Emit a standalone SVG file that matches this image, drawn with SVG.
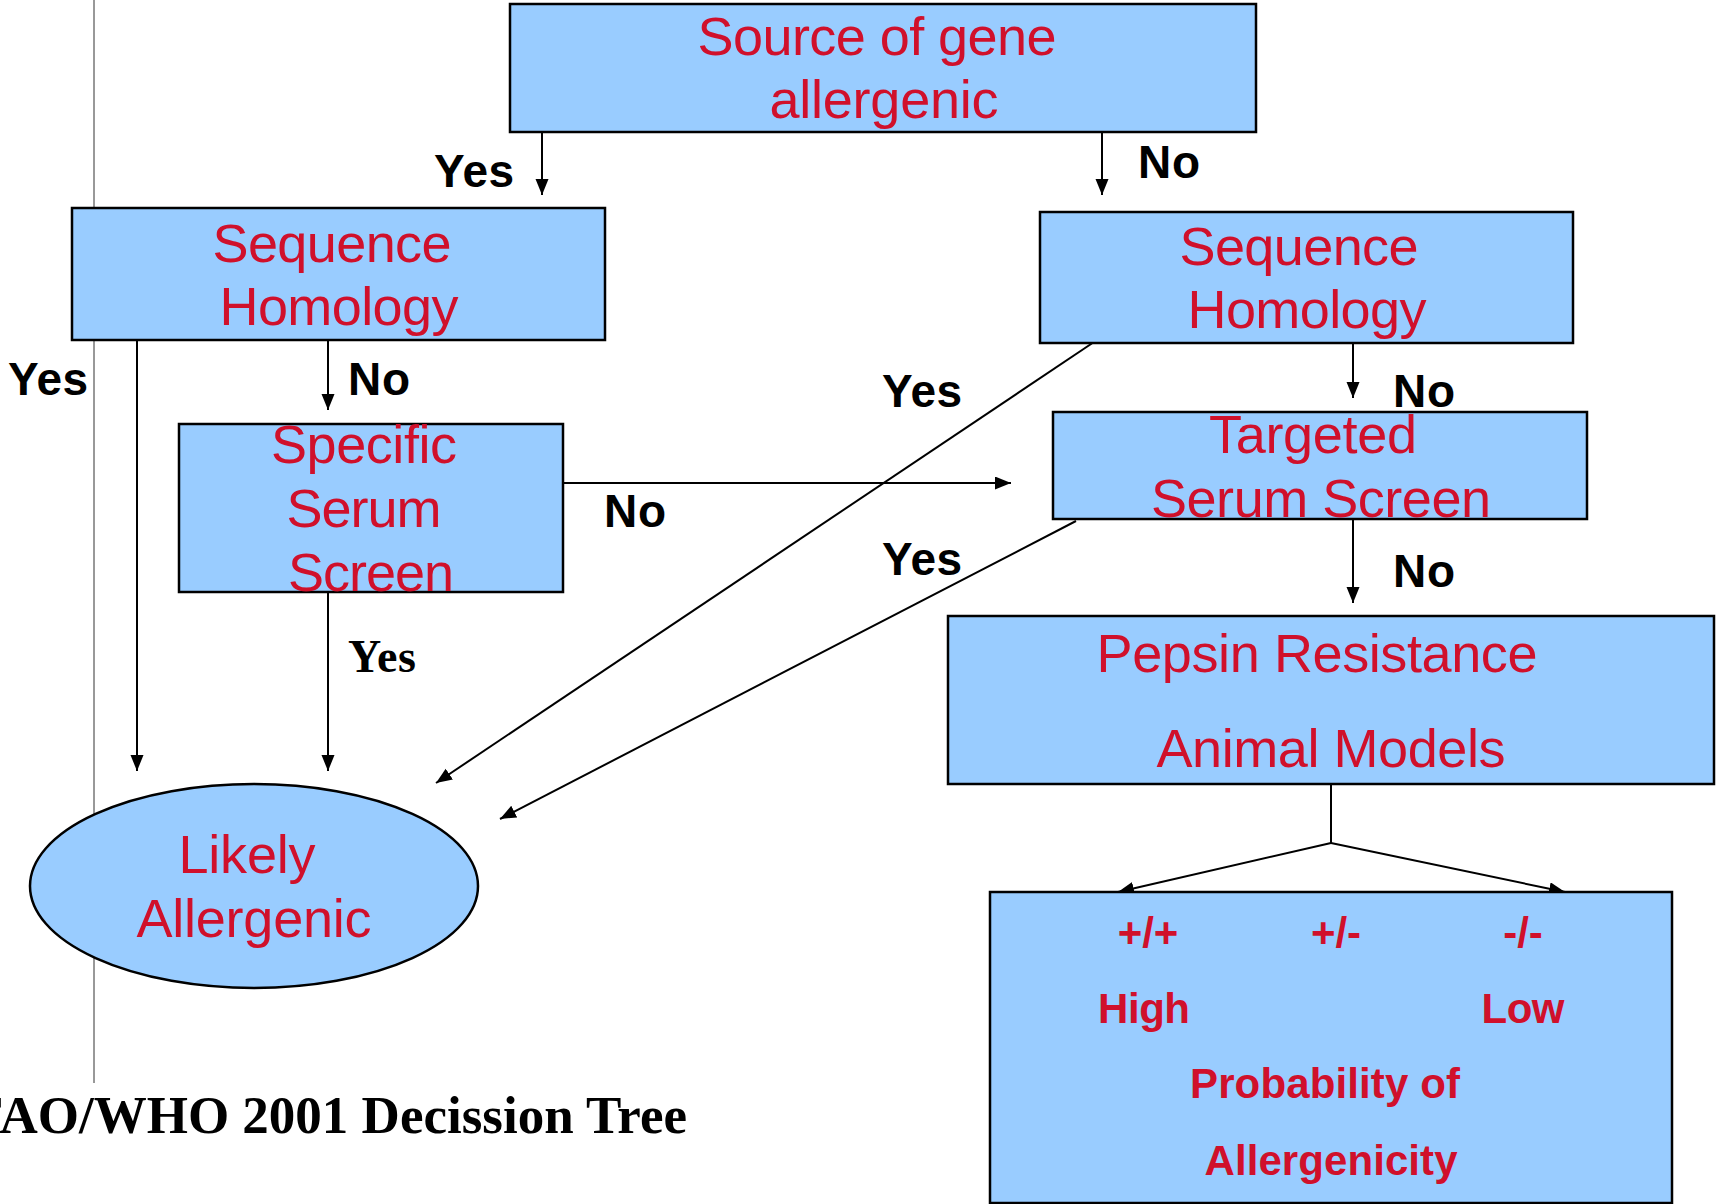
<svg xmlns="http://www.w3.org/2000/svg" width="1716" height="1204" viewBox="0 0 1716 1204">
<defs>
<marker id="ah" markerUnits="userSpaceOnUse" markerWidth="18" markerHeight="14" refX="16" refY="6.5" orient="auto">
<path d="M0,0 L16,6.5 L0,13 z" fill="#000"/>
</marker>
<style>
.box{fill:#99CCFF;stroke:#000;stroke-width:2.5}
.t{font-family:"Liberation Sans",Arial,sans-serif;font-size:54px;fill:#D0102B;text-anchor:middle}
.tb{font-family:"Liberation Sans",Arial,sans-serif;font-size:42px;font-weight:bold;fill:#D0102B;text-anchor:middle}
.lbl{font-family:"Liberation Sans",Arial,sans-serif;font-size:46px;font-weight:bold;fill:#000}
.ser{font-family:"Liberation Serif","Times New Roman",serif;font-weight:bold;fill:#000}
.c{stroke:#000;stroke-width:2;fill:none}
.ca{stroke:#000;stroke-width:2;fill:none;marker-end:url(#ah)}
</style>
</defs>
<rect width="1716" height="1204" fill="#fff"/>
<line x1="94" y1="0" x2="94" y2="1083" stroke="#333" stroke-width="1"/>

<g id="connectors">
<line class="ca" x1="542" y1="132" x2="542" y2="195"/>
<line class="ca" x1="1102" y1="132" x2="1102" y2="195"/>
<line class="ca" x1="137" y1="340" x2="137" y2="771"/>
<line class="ca" x1="328" y1="340" x2="328" y2="410"/>
<line class="ca" x1="328" y1="592" x2="328" y2="771"/>
<line class="ca" x1="563" y1="483" x2="1011" y2="483"/>
<line class="ca" x1="1097" y1="340" x2="436" y2="783"/>
<line class="ca" x1="1353" y1="343" x2="1353" y2="398"/>
<line class="ca" x1="1076" y1="521" x2="500" y2="819"/>
<line class="ca" x1="1353" y1="519" x2="1353" y2="603"/>
<line class="c" x1="1331" y1="784" x2="1331" y2="843"/>
<line class="ca" x1="1331" y1="843" x2="1118" y2="892"/>
<line class="ca" x1="1331" y1="843" x2="1565" y2="892"/>
<text class="lbl" x="434" y="187" textLength="80">Yes</text>
<text class="lbl" x="1138" y="178" textLength="62">No</text>
<text class="lbl" x="8" y="395" textLength="80">Yes</text>
<text class="lbl" x="348" y="395" textLength="62">No</text>
<text class="lbl" x="882" y="407" textLength="80">Yes</text>
<text class="lbl" x="1393" y="407" textLength="62">No</text>
<text class="lbl" x="604" y="527" textLength="62">No</text>
<text class="lbl" x="882" y="575" textLength="80">Yes</text>
<text class="lbl" x="1393" y="587" textLength="62">No</text>
<text class="ser" x="348" y="672" font-size="46" textLength="68">Yes</text>
</g>

<g id="source">
<rect class="box" x="510" y="4" width="746" height="128"/>
<text class="t" x="877" y="55" textLength="359">Source of gene</text>
<text class="t" x="884" y="118" textLength="229">allergenic</text>
</g>

<g id="seq-left">
<rect class="box" x="72" y="208" width="533" height="132"/>
<text class="t" x="332" y="262" textLength="239">Sequence</text>
<text class="t" x="339" y="325" textLength="239">Homology</text>
</g>

<g id="seq-right">
<rect class="box" x="1040" y="212" width="533" height="131"/>
<text class="t" x="1299" y="265" textLength="239">Sequence</text>
<text class="t" x="1307" y="328" textLength="239">Homology</text>
</g>

<g id="specific">
<rect class="box" x="179" y="424" width="384" height="168"/>
<text class="t" x="364" y="463" textLength="186">Specific</text>
<text class="t" x="364" y="527" textLength="155">Serum</text>
<text class="t" x="371" y="591" textLength="166">Screen</text>
</g>

<g id="targeted">
<rect class="box" x="1053" y="412" width="534" height="107"/>
<text class="t" x="1313" y="453" textLength="208">Targeted</text>
<text class="t" x="1321" y="517" textLength="340">Serum Screen</text>
</g>

<g id="pepsin">
<rect class="box" x="948" y="616" width="766" height="168"/>
<text class="t" x="1317" y="672" textLength="441">Pepsin Resistance</text>
<text class="t" x="1331" y="767" textLength="349">Animal Models</text>
</g>

<g id="likely">
<ellipse class="box" cx="254" cy="886" rx="224" ry="102" stroke-width="2"/>
<text class="t" x="247" y="873" textLength="137">Likely</text>
<text class="t" x="254" y="937" textLength="235">Allergenic</text>
</g>

<g id="probability">
<rect class="box" x="990" y="892" width="682" height="311"/>
<text class="tb" x="1148" y="947">+/+</text>
<text class="tb" x="1336" y="947">+/-</text>
<text class="tb" x="1523" y="947">-/-</text>
<text class="tb" x="1144" y="1023" textLength="92">High</text>
<text class="tb" x="1523" y="1023" textLength="83">Low</text>
<text class="tb" x="1325" y="1098" textLength="270">Probability of</text>
<text class="tb" x="1331" y="1175" textLength="253">Allergenicity</text>
</g>

<text class="ser" x="-29" y="1133" font-size="53">FAO/WHO 2001 Decission Tree</text>
</svg>
